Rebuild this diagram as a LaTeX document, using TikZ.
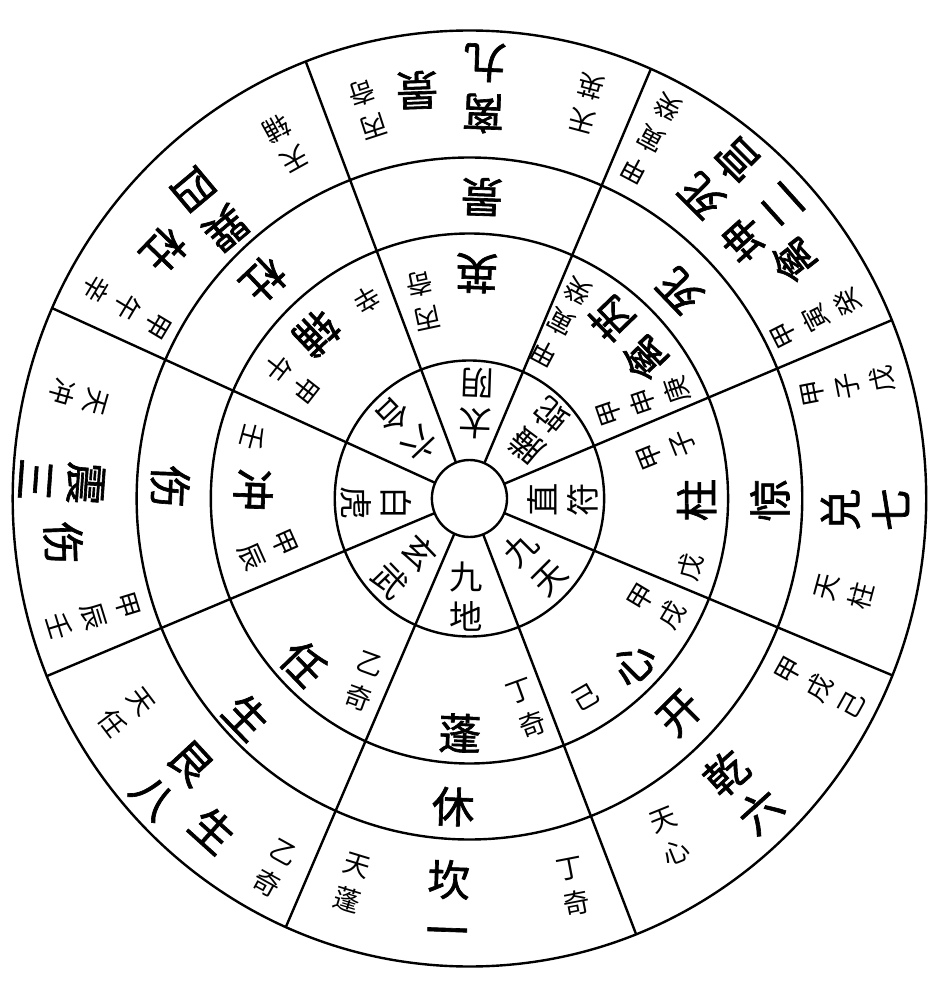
\documentclass[tikz,border=0pt]{standalone}
\usepackage{fontspec}
\newfontfamily\cjk{Noto Sans CJK SC}
\newfontfamily\cjkbig[FakeBold=1.5]{Noto Sans CJK SC}

\tikzset{every picture/.style={line width=1.8pt}}
\tikzset{
  bigtxt/.style={font=\cjkbig\fontsize{32}{38}\selectfont, align=center, inner sep=0pt},
  midtxt/.style={font=\cjk\fontsize{25}{30}\selectfont, align=center, inner sep=0pt},
  smalltxt/.style={font=\cjk\fontsize{20}{27}\selectfont, align=center, inner sep=0pt}
}

\begin{document}
\begin{tikzpicture}[x=0.732pt,y=0.75pt]
\useasboundingbox (-481,-501.5) rectangle (485.1,498.5);

%Shape: Circle
\draw (0,0) circle [radius=38.5];
%Shape: Circle
\draw (0,0) circle [radius=138];
%Shape: Circle
\draw (0,0) circle [radius=265];
%Shape: Circle
\draw (0,0) circle [radius=341];
%Shape: Circle
\draw (0,0) circle [radius=468];
%Straight Lines
\foreach \a in {22.4,66.6,111,156,202.3,246.3,291.4,337.8}
  \draw (\a:38.5) -- (\a:468);

% Text Node
\draw (73.1:413) node (tianYing) [smalltxt, rotate=165] {天\\英};
% Text Node
\draw (87.9:410.5) node (liJiu) [bigtxt, rotate=178] {离\\九};
% Text Node
\draw (97.5:412) node (jingOut) [bigtxt, rotate=182] {景};
% Text Node
\draw (105:403) node (bingQiOut) [smalltxt, rotate=198] {丙\\奇};
% Text Node
\draw (87.6:302) node (jingDoor) [bigtxt, rotate=178] {景};
% Text Node
\draw (88.1:225.3) node (ying) [bigtxt, rotate=178] {英};
% Text Node
\draw (103.5:203) node (bingQiStar) [smalltxt, rotate=192] {丙\\奇};
% Text Node
\draw (85.6:95.5) node (taiYin) [midtxt, rotate=178] {太\\阴};

% Text Node
\draw (62.6:405.7) node (jiaYinGuiA) [smalltxt, rotate=152] {甲\\寅\\癸};
% Text Node
\draw (26.9:398.7) node (jiaYinGuiB) [smalltxt, rotate=117] {甲\\寅\\癸};
% Text Node
\draw (51.4:411.4) node (siGong) [bigtxt, rotate=135] {死\\宫};
% Text Node
\draw (42.6:406.4) node (kunEr) [bigtxt, rotate=132] {坤\\二};
% Text Node
\draw (35.7:408.6) node (qinOut) [bigtxt, rotate=128] {禽};
% Text Node
\draw (44:300) node (siDoor) [bigtxt, rotate=134] {死};
% Text Node
\draw (51:232) node (rui) [bigtxt, rotate=134] {芮};
% Text Node
\draw (38:228) node (qin) [bigtxt, rotate=134] {禽};
% Text Node
\draw (62:200) node (jiaYinGuiC) [smalltxt, rotate=152] {甲\\寅\\癸};
% Text Node
\draw (28.5:203) node (jiaShenGeng) [smalltxt, rotate=109] {甲\\申\\庚};
% Text Node
\draw (43.5:98.1) node (tengShe) [midtxt, rotate=140] {螣\\蛇};

% Text Node
\draw (118:402) node (tianFu) [smalltxt, rotate=209] {天\\辅};
% Text Node
\draw (132.6:393) node (xunSi) [bigtxt, rotate=220] {巽\\四};
% Text Node
\draw (141.6:400) node (duOut) [bigtxt, rotate=226] {杜};
% Text Node
\draw (151.4:400) node (jiaWuXin) [smalltxt, rotate=239] {甲\\午\\辛};
% Text Node
\draw (134:304) node (duDoor) [bigtxt, rotate=223.5] {杜};
% Text Node
\draw (133.5:227.6) node (fu) [bigtxt, rotate=223.5] {辅};
% Text Node
\draw (117.9:224.7) node (xinStar) [smalltxt, rotate=210] {辛};
% Text Node
\draw (146.6:218.3) node (jiaWu) [smalltxt, rotate=232] {甲\\午};
% Text Node
\draw (133.2:94) node (liuHe) [midtxt, rotate=223.5] {六\\合};

% Text Node
\draw (165.7:413.5) node (tianChong) [smalltxt, rotate=254] {天\\冲};
% Text Node
\draw (177.7:418) node (zhenSan) [bigtxt, rotate=266] {震\\三};
% Text Node
\draw (186.1:418.6) node (shangOut) [bigtxt, rotate=272] {伤};
% Text Node
\draw (197:403) node (jiaChenRen) [smalltxt, rotate=287] {甲\\辰\\壬};
% Text Node
\draw (177.8:307) node (shangDoor) [bigtxt, rotate=268] {伤};
% Text Node
\draw (177.8:221.7) node (chong) [bigtxt, rotate=268] {冲};
% Text Node
\draw (164.4:230) node (renStem) [smalltxt, rotate=255] {壬};
% Text Node
\draw (194:212.5) node (jiaChen) [smalltxt, rotate=294] {甲\\辰};
% Text Node
\draw (182.9:95.2) node (baiHu) [midtxt, rotate=270] {白\\虎};

% Text Node
\draw (211.4:411.7) node (tianRen) [smalltxt, rotate=307] {天\\任};
% Text Node
\draw (222.7:415) node (genBa) [bigtxt, rotate=312.7] {艮\\八};
% Text Node
\draw (231.6:422.9) node (shengOut) [bigtxt, rotate=318] {生};
% Text Node
\draw (241.7:420) node (yiQiOut) [smalltxt, rotate=331] {乙\\奇};
% Text Node
\draw (223.7:315.8) node (shengDoor) [bigtxt, rotate=314] {生};
% Text Node
\draw (224.1:237) node (renStar) [bigtxt, rotate=314] {任};
% Text Node
\draw (239.5:212.6) node (yiQiStar) [smalltxt, rotate=340] {乙\\奇};
% Text Node
\draw (225.9:95) node (xuanWu) [midtxt, rotate=314] {玄\\武};

% Text Node
\draw (252.6:403.3) node (tianPeng) [smalltxt, rotate=343] {天\\蓬};
% Text Node
\draw (266.9:405.4) node (kanYi) [bigtxt, rotate=358] {坎\\一};
% Text Node
\draw (285.3:402.5) node (dingQiOut) [smalltxt, rotate=11] {丁\\奇};
% Text Node
\draw (266.9:308.6) node (xiuDoor) [bigtxt, rotate=358] {休};
% Text Node
\draw (267.6:235) node (peng) [bigtxt, rotate=358] {蓬};
% Text Node
\draw (285.6:217.8) node (dingQiStar) [smalltxt, rotate=20] {丁\\奇};
% Text Node
\draw (268.3:98.2) node (jiuDi) [midtxt, rotate=0] {九\\地};

% Text Node
\draw (301.3:395.7) node (tianXin) [smalltxt, rotate=22] {天\\心};
% Text Node
\draw (313.7:405.8) node (qianLiu) [bigtxt, rotate=42] {乾\\六};
% Text Node
\draw (332.2:406) node (jiaXuJi) [smalltxt, rotate=61] {甲\\戌\\己};
% Text Node
\draw (315.1:304.4) node (kaiDoor) [bigtxt, rotate=45] {开};
% Text Node
\draw (315.5:235.2) node (xinStar2) [bigtxt, rotate=45] {心};
% Text Node
\draw (300.7:232) node (jiStem) [smalltxt, rotate=30] {己};
% Text Node
\draw (330.6:220.2) node (jiaXu) [smalltxt, rotate=59] {甲\\戌};
% Text Node
\draw (316:93.3) node (jiuTian) [midtxt, rotate=45] {九\\天};

% Text Node
\draw (16.1:403.9) node (jiaZiWu) [smalltxt, rotate=101] {甲\\子\\戊};
% Text Node
\draw (358.4:405.4) node (duiQi) [bigtxt, rotate=90] {兑\\七};
% Text Node
\draw (346.4:395.8) node (tianZhu) [smalltxt, rotate=75] {天\\柱};
% Text Node
\draw (359.7:307.9) node (jingDoorE) [bigtxt, rotate=90] {惊};
% Text Node
\draw (359.6:232.8) node (zhu) [bigtxt, rotate=90] {柱};
% Text Node
\draw (13.5:207.8) node (jiaZi) [smalltxt, rotate=112] {甲\\子};
% Text Node
\draw (343.2:236) node (wuStem) [smalltxt, rotate=75] {戊};
% Text Node
\draw (359.1:96.1) node (zhiFu) [midtxt, rotate=90] {直\\符};

\end{tikzpicture}
\end{document}
